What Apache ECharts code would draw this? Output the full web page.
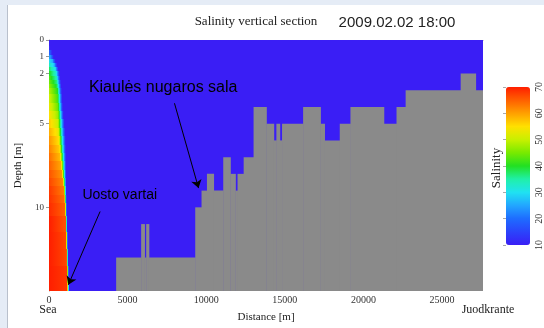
<!DOCTYPE html>
<html><head><meta charset="utf-8">
<script src="https://cdn.jsdelivr.net/npm/echarts@6/dist/echarts.min.js"></script>
<style>html,body{margin:0;padding:0;background:#fff}#c{width:544px;height:328px}</style>
</head><body><div id="c"></div>
<script>
// ---------- data ----------
const distanceMax = 27600;           // m
const depthMax = 15;                 // m
const xTickStep = 5000;
const depthTicks = [0, 1, 2, 5, 10];
const salinityMin = 10, salinityMax = 70, salinityStep = 10;

// salinity profile levels near the sea gate
const levelDepth    = [0, 0.25, 0.5, 0.75, 1.0, 1.25, 1.5, 1.75, 2.0, 2.25, 2.5, 2.75, 3.0, 3.5, 4.0, 4.5, 5.0, 5.5, 6.0, 6.5, 7.0, 7.5, 8.0, 8.5, 9.0, 9.5, 10, 11, 12, 13, 14, 15];
const shoreSalinity = [10, 10, 13, 19, 25, 30, 34, 38, 41, 43, 45, 47, 49, 51, 53, 55, 57, 59, 61, 62.5, 64, 65, 66, 67, 68, 68.5, 69, 70, 70, 70, 70, 70];
const coreEnd       = [0, 0, 0, 60, 120, 220, 320, 400, 450, 480, 500, 520, 540, 560, 580, 580, 580, 590, 620, 660, 700, 760, 820, 875, 930, 975, 1020, 1050, 1080, 1110, 1130, 1150];
const coreSalinity  = [10, 10, 13, 18, 23, 26, 28, 30, 32, 34, 36, 38, 40, 42, 44, 47, 50, 53, 55, 56.5, 58, 59.5, 61, 62, 63, 64, 65, 66, 67, 67, 68, 68];
const frontEnd      = [0, 0, 100, 200, 300, 420, 520, 600, 680, 720, 760, 790, 820, 850, 880, 930, 990, 1030, 1060, 1072, 1085, 1092, 1100, 1108, 1115, 1122, 1130, 1160, 1195, 1225, 1260, 1290];
const backgroundSalinity = 10;

// bed (gray) segments: start distance and top depth, each runs to the next start
const bedStart = [4270, 5860, 6070, 6180, 6350, 9300, 9700, 10045, 10465, 11080, 11530, 11850, 11990, 12380, 13010, 13820, 14290, 14460, 14670, 14820, 16160, 17260, 17520, 18490, 19170, 21290, 22100, 22680, 26180, 27130];
const bedDepth = [13,   11,   13,   11,   13,   10,   9,    8,     9,     7,     8,     9,     8,     7,     4,     5,     6,     5,     6,     5,     4,     5,     6,     5,     4,     5,     4,     3,     2,     3];

// colour scale of the salinity bar (10 .. 70, every 5)
const scaleColors = ['#3a1ef5','#2b44fb','#1e6cff','#22a6ff','#20e2f2','#20f0a8','#22e022','#78ea00','#c8f000','#ffe000','#ffa000','#ff6000','#ff1e00'];

// annotations
const annotTexts  = ['Kiaulės nugaros sala', 'Uosto vartai'];
const annotAt     = [[7260, 2.87], [4500, 9.25]];
const arrowFrom   = [[7980, 3.78], [3250, 10.25]];
const arrowTo     = [[9510, 8.85], [1230, 14.63]];

// ---------- helpers ----------
function hex(c){return [parseInt(c.slice(1,3),16),parseInt(c.slice(3,5),16),parseInt(c.slice(5,7),16)];}
const scaleRGB = scaleColors.map(hex);
function colorAt(s){
  const t = Math.max(0, Math.min(scaleRGB.length-1, (s-salinityMin)/5));
  const i = Math.min(scaleRGB.length-2, Math.floor(t)), f = t-i;
  const a = scaleRGB[i], b = scaleRGB[i+1];
  return 'rgb(' + a.map((v,k)=>Math.round(v+(b[k]-v)*f)).join(',') + ')';
}
function addSegment(stops, x0, s0, x1, s1){
  const lo=Math.min(s0,s1), hi=Math.max(s0,s1), nodes=[];
  for(let k=0;k<scaleColors.length;k++){const s=salinityMin+5*k; if(s>lo&&s<hi) nodes.push(s);}
  if(s0>s1) nodes.reverse();
  nodes.forEach(s=>{const x=x0+(x1-x0)*(s-s0)/(s1-s0); stops.push({offset:x/distanceMax,color:colorAt(s)});});
  stops.push({offset:x1/distanceMax,color:colorAt(s1)});
}

const n = levelDepth.length;
const layerData = levelDepth.map((d,i)=>[
  i===0 ? 0 : (levelDepth[i-1]+d)/2,
  i===n-1 ? depthMax : (d+levelDepth[i+1])/2,
  shoreSalinity[i], coreEnd[i], coreSalinity[i], frontEnd[i]
]);
const bedData = bedStart.map((s,i)=>[s, i<bedStart.length-1 ? bedStart[i+1] : distanceMax, bedDepth[i]]);

const serif = 'Liberation Serif';
const sans = 'Liberation Sans';

const option = {
  animation: false,
  backgroundColor: '#e5ecf6',
  grid: [
    {left: 49, top: 40, width: 434, height: 251},
    {left: 506, top: 87, width: 24, height: 158}
  ],
  xAxis: [
    {type:'value', gridIndex:0, min:0, max:distanceMax, interval:xTickStep,
     name:'Distance [m]', nameLocation:'middle', nameGap:21,
     nameTextStyle:{fontFamily:serif,fontSize:11,color:'#222'},
     axisLine:{show:true,lineStyle:{color:'#999'}},
     axisTick:{show:true,length:3,lineStyle:{color:'#999'}},
     axisLabel:{fontFamily:serif,fontSize:10,color:'#333',margin:4,showMaxLabel:false,formatter:v=>String(v)},
     splitLine:{show:false}},
    {type:'value', gridIndex:1, show:false, min:0, max:1}
  ],
  yAxis: [
    {type:'value', gridIndex:0, min:0, max:depthMax, inverse:true,
     name:'Depth [m]', nameLocation:'middle', nameGap:24, nameRotate:90,
     nameTextStyle:{fontFamily:serif,fontSize:11,color:'#222'},
     axisLine:{show:true,lineStyle:{color:'#999'}},
     axisTick:{show:true,length:3,customValues:depthTicks,lineStyle:{color:'#999'}},
     axisLabel:{fontFamily:serif,fontSize:9,color:'#333',margin:5,customValues:depthTicks},
     splitLine:{show:false}},
    {type:'value', gridIndex:1, min:salinityMin, max:salinityMax, interval:salinityStep, position:'right',
     axisLine:{show:false},
     axisTick:{show:true,inside:true,length:3,lineStyle:{color:'#aaa'}},
     axisLabel:{fontFamily:serif,fontSize:10,color:'#333',rotate:90,margin:6},
     splitLine:{show:false}}
  ],
  visualMap: {
    type:'continuous', min:salinityMin, max:salinityMax, calculable:false, orient:'vertical',
    left:506, top:87, itemWidth:24, itemHeight:158, padding:0, seriesIndex:[],
    inRange:{color:scaleColors}, textStyle:{color:'transparent'}
  },
  series: [
    {
      type:'custom', xAxisIndex:0, yAxisIndex:0, clip:true, silent:true,
      data: layerData,
      renderItem: function(params, api){
        const top=api.value(0), bottom=api.value(1);
        const s0=api.value(2), xc=api.value(3), sc=api.value(4), xf=api.value(5);
        const p0=api.coord([0,top]), p1=api.coord([distanceMax,bottom]);
        const y0=Math.round(p0[1]), y1=Math.round(p1[1]);
        const stops=[{offset:0,color:colorAt(s0)}];
        if(xc>0) addSegment(stops,0,s0,xc,sc);
        if(xf>xc) addSegment(stops,xc,sc,xf,backgroundSalinity);
        stops.push({offset:1,color:colorAt(backgroundSalinity)});
        return {type:'rect', shape:{x:p0[0],y:y0,width:p1[0]-p0[0],height:y1-y0},
                style:{fill:new echarts.graphic.LinearGradient(0,0,1,0,stops)}};
      }
    },
    {
      type:'custom', xAxisIndex:0, yAxisIndex:0, clip:true, silent:true,
      data: bedData,
      renderItem: function(params, api){
        const p0=api.coord([api.value(0),api.value(2)]), p1=api.coord([api.value(1),depthMax]);
        return {type:'rect', shape:{x:p0[0],y:p0[1],width:p1[0]-p0[0]+0.5,height:p1[1]-p0[1]},
                style:{fill:'#8a8a8a'}};
      }
    },
    {
      type:'line', xAxisIndex:0, yAxisIndex:0, data:[], silent:true,
      markLine:{
        silent:true, symbol:['none','arrow'], symbolSize:8,
        label:{show:false},
        lineStyle:{color:'#000',width:1,type:'solid'},
        emphasis:{disabled:true},
        data: arrowFrom.map((f,i)=>[{coord:f},{coord:arrowTo[i]}])
      }
    }
  ]
};

const chart = echarts.init(document.getElementById('c'), null, {renderer:'canvas'});
chart.setOption(option);

const annotPx = annotAt.map(p=>chart.convertToPixel({gridIndex:0}, p));
chart.setOption({
  graphic: [
    {type:'rect', z:-10, shape:{x:7,y:5,width:537,height:323}, style:{fill:'#fff'}},
    {type:'line', z:-9, shape:{x1:7.5,y1:5,x2:7.5,y2:328}, style:{stroke:'#b9c0cc',lineWidth:1}},
    {type:'text', x:256, y:22, style:{text:'Salinity vertical section',font:'13px '+serif,fill:'#222',align:'center',verticalAlign:'middle'}},
    {type:'text', x:397, y:23, style:{text:'2009.02.02 18:00',font:'15px '+sans,fill:'#222',align:'center',verticalAlign:'middle'}},
    {type:'text', x:48, y:310, style:{text:'Sea',font:'12px '+serif,fill:'#222',align:'center',verticalAlign:'middle'}},
    {type:'text', x:488, y:310, style:{text:'Juodkrante',font:'12px '+serif,fill:'#222',align:'center',verticalAlign:'middle'}},
    {type:'text', x:497, y:168, rotation:Math.PI/2, style:{text:'Salinity',font:'13px '+serif,fill:'#222',align:'center',verticalAlign:'middle'}},
    {type:'text', z:10, x:annotPx[0][0], y:annotPx[0][1], style:{text:annotTexts[0],font:'16px '+sans,fill:'#000',align:'center',verticalAlign:'middle'}},
    {type:'text', z:10, x:annotPx[1][0], y:annotPx[1][1], style:{text:annotTexts[1],font:'14px '+sans,fill:'#000',align:'center',verticalAlign:'middle'}}
  ]
});
</script></body></html>
